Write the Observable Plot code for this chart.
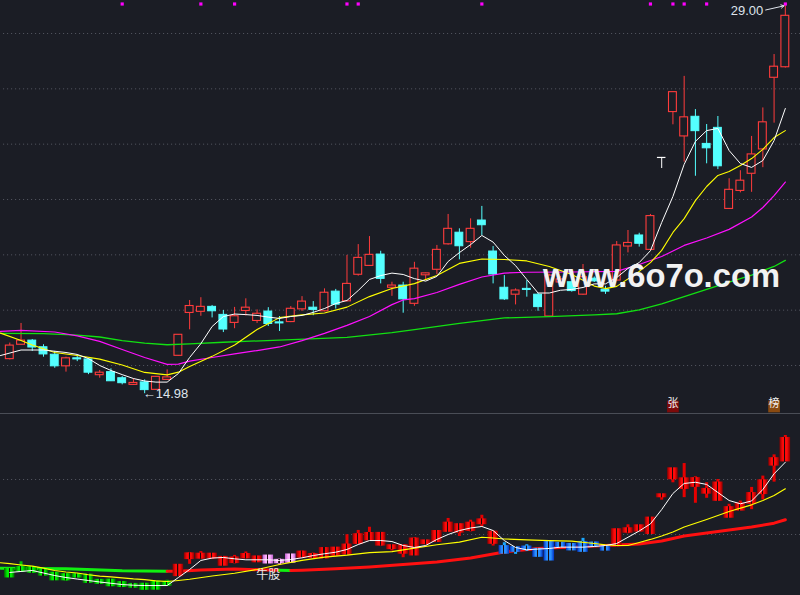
<!DOCTYPE html>
<html><head><meta charset="utf-8">
<script src="https://cdn.jsdelivr.net/npm/d3@7"></script>
<script src="https://cdn.jsdelivr.net/npm/@observablehq/plot@0.6"></script>
<style>
html,body{margin:0;padding:0;background:#1b1d25;}
#wrap{position:relative;width:800px;height:595px;overflow:hidden;background:#1b1d25;}
#sep{height:1px;background:#4a4d56;}
#wrap svg{display:block}
#wm{position:absolute;left:0;top:0;pointer-events:none}
</style></head><body><div id="wrap"></div>
<script>
// ---- daily OHLC (price) ----
const open  = [16.23,16.75,16.90,16.66,16.39,15.97,16.26,16.22,15.65,15.76,15.54,15.30,15.39,15.12,15.48,16.35,17.90,17.94,18.12,17.83,17.54,17.97,17.61,17.95,17.56,17.57,18.03,18.09,17.96,18.67,18.32,19.28,19.60,20.01,18.81,18.89,18.23,19.26,19.46,20.38,20.80,20.46,21.24,20.12,18.81,18.56,18.77,18.56,17.77,19.00,19.01,18.56,19.14,18.74,19.07,20.30,20.70,20.18,23.52,25.16,24.28,24.99,24.01,24.59,21.66,22.31,22.93,23.81,26.40,26.78];
const high  = [16.81,17.52,16.94,16.75,16.51,16.30,16.39,16.24,15.82,15.88,15.60,15.52,15.48,15.60,15.84,17.11,18.35,18.45,18.17,17.99,18.10,18.41,18.01,18.09,17.77,18.13,18.49,18.31,18.77,18.75,19.98,20.37,20.66,20.13,19.01,19.01,19.73,19.34,20.34,21.46,20.94,21.30,21.75,20.30,19.25,18.77,19.07,18.60,19.30,19.22,19.05,19.65,19.20,18.86,20.48,20.88,20.78,21.46,23.52,25.88,26.45,25.25,24.71,25.00,22.75,23.04,24.28,25.31,27.24,29.00];
const low   = [16.20,16.74,16.51,16.30,15.90,15.76,16.14,15.67,15.54,15.42,15.30,15.28,14.98,15.10,15.46,16.35,17.29,17.78,17.72,17.19,17.33,17.79,17.52,17.41,17.23,17.55,17.95,17.80,17.94,18.04,18.30,19.23,19.58,18.95,18.50,17.89,18.14,19.07,19.29,20.35,19.82,20.24,20.70,18.95,18.35,18.19,18.47,17.96,17.75,18.93,18.65,18.54,19.00,18.57,19.05,20.07,20.28,20.15,23.12,24.70,23.35,22.84,23.29,23.08,21.64,22.24,22.26,23.15,24.76,26.75];
const close = [16.72,16.90,16.65,16.40,15.97,16.26,16.22,15.74,15.74,15.43,15.36,15.37,15.11,15.59,15.57,17.11,18.15,18.12,17.96,17.30,17.78,18.09,17.87,17.50,17.52,18.05,18.31,18.01,18.63,18.20,18.95,19.89,20.00,19.13,18.89,18.39,19.50,19.33,20.18,20.94,20.31,20.94,21.07,19.29,18.39,18.71,18.73,18.11,19.25,19.11,18.69,19.19,19.04,18.67,20.34,20.43,20.40,21.40,23.52,25.88,24.97,24.47,23.85,23.20,22.35,22.68,23.63,24.79,26.80,28.64];

// ---- moving averages as [candle index, price] ----
const ma5 = [[-0.83,16.36],[1,16.56],[3,16.56],[5,16.47],[6,16.40],[7,16.25],[8,16.00],[9,15.82],[10,15.67],[11,15.53],[12,15.44],[13,15.40],[14,15.40],[15,15.71],[16,16.29],[17,16.79],[18,17.41],[19,17.77],[20,17.86],[21,17.84],[22,17.81],[23,17.75],[24,17.70],[25,17.77],[26,17.81],[27,17.92],[28,18.06],[29,18.24],[30,18.35],[31,18.71],[32,19.11],[33,19.25],[34,19.34],[35,19.29],[36,19.14],[37,19.05],[38,19.22],[39,19.76],[40,20.08],[41,20.37],[42,20.70],[43,20.46],[44,19.98],[45,19.61],[46,19.11],[47,18.62],[48,18.62],[49,18.72],[50,18.75],[51,18.82],[52,18.95],[53,18.95],[54,19.18],[55,19.51],[56,19.72],[57,20.15],[58,21.17],[59,22.11],[60,23.27],[61,24.10],[62,24.49],[63,24.57],[64,23.77],[65,23.30],[66,23.16],[67,23.41],[68,24.13],[69,25.29]];
const ma10 = [[-0.83,17.17],[1,16.90],[2,16.74],[4,16.47],[6,16.36],[8,16.23],[10,16.02],[12,15.75],[14,15.66],[15,15.76],[16,15.96],[18,16.33],[20,16.74],[22,17.30],[24,17.73],[26,17.83],[28,17.90],[30,18.11],[32,18.49],[34,18.78],[36,18.96],[38,19.25],[40,19.69],[42,19.85],[44,19.83],[46,19.78],[48,19.58],[50,19.29],[52,18.87],[53,18.78],[54,18.86],[56,19.40],[57,19.72],[58,20.16],[59,20.81],[60,21.31],[61,21.96],[62,22.47],[63,22.87],[64,23.01],[65,23.23],[66,23.48],[67,23.81],[68,24.24],[69,24.49]];
const ma20 = [[-0.83,17.23],[1,17.27],[4,17.21],[6,17.07],[8,16.87],[10,16.58],[12,16.29],[14,16.04],[15,16.05],[16,16.16],[18,16.29],[20,16.42],[22,16.54],[24,16.67],[26,16.90],[28,17.16],[30,17.45],[32,17.77],[34,18.20],[35,18.37],[36,18.42],[38,18.64],[40,18.93],[42,19.20],[44,19.34],[46,19.37],[50,19.38],[54,19.40],[56,19.65],[58,19.94],[60,20.34],[62,20.61],[64,20.92],[66,21.37],[67,21.71],[68,22.14],[69,22.63]];
const ma60 = [[-0.83,17.16],[3,17.15],[6,17.10],[8,17.03],[10,16.90],[12,16.81],[14,16.75],[16,16.78],[19,16.84],[24,16.92],[30,17.02],[34,17.19],[36,17.30],[40,17.52],[44,17.72],[48,17.77],[52,17.83],[54,17.87],[56,18.01],[58,18.23],[60,18.49],[62,18.75],[64,19.01],[66,19.27],[68,19.58],[69,19.80]];

// ---- lower panel ----
const toneCodes = "gggggggggggggggrrrrrrrrppprrrrrrrrrrrrrrrrrrbbbbbbbbbbrrrrrrrrrrrrrrrr".split("");
const lowWhite = [16.55,16.64,16.73,16.50,16.27,16.09,15.95,15.82,15.68,15.57,15.45,15.39,15.36,15.36,15.36,16.09,16.82,17.64,17.86,17.91,17.79,17.70,17.70,17.70,17.64,17.73,17.88,18.09,18.25,18.39,18.64,19.09,19.45,19.45,19.36,19.00,18.82,19.00,19.55,20.00,20.36,20.59,20.73,20.36,19.45,18.82,18.61,18.68,18.73,18.85,18.85,18.85,18.91,19.00,19.18,19.75,20.32,20.97,22.27,23.73,24.64,24.75,24.55,23.82,23.09,22.79,23.05,24.09,25.52,26.57];
const lowYellow = [[-0.83,17.43],[0,17.36],[1,17.23],[2,17.12],[3,16.95],[4,16.73],[5,16.59],[6,16.50],[7,16.34],[8,16.21],[9,16.14],[10,16.06],[11,15.96],[12,15.89],[13,15.79],[14,15.73],[15,15.82],[16,15.93],[18,16.23],[20,16.48],[22,16.82],[24,17.27],[26,17.64],[28,17.94],[30,18.12],[32,18.36],[34,18.45],[36,18.77],[38,19.07],[40,19.30],[42,19.75],[43,19.68],[44,19.59],[46,19.52],[48,19.45],[50,19.39],[52,19.18],[53,19.06],[54,19.00],[55,19.00],[56,19.27],[57,19.55],[58,19.86],[59,20.23],[60,20.68],[62,21.36],[64,22.09],[66,22.70],[67,23.09],[68,23.55],[69,24.15]];
const thickIdx   = [-0.83,5,10,14,15,17,20,23,24,25,26,29,32,35,38,41,44,47,50,53,56,58,60,63,66,68,69];
const thickVal   = [16.94,16.88,16.70,16.66,16.66,16.77,16.86,16.77,16.75,16.73,16.76,16.88,17.05,17.27,17.50,17.86,18.41,18.73,18.86,19.00,19.14,19.41,19.86,20.27,20.68,21.03,21.34];
const thickState = ["dn","dn","dn","dn","up","up","up","up","up","dn","up","up","up","up","up","up","up","up","up","up","up","up","up","up","up","up","up"];

// ---- grid & labels ----
const gridTop = [16,18,20,22,24,26,28];
const gridLow = [20,25];
const signalIdx = [10,17,20,30,31,42,57,59,60,62,69];
const tagIdx = [59,68];
const tagText = ["张","榜"];
const noteLabel = "牛股";
const noteIdx = 23;

// ---------------------------------------------------------------
const BG="#1b1d25", RED="#ff3c3c", CYAN="#54ffff";
const candles = open.map((o,i)=>({i,o,h:high[i],l:low[i],c:close[i],tone:toneCodes[i]}));
const xDomain=[-0.827,70.35];
const pt = a=>a.map(([i,v])=>({i,v}));
const hiC = candles.reduce((a,b)=>b.h>a.h?b:a);
const loC = candles.reduce((a,b)=>b.l<a.l?b:a);
const tags = tagIdx.map((i,k)=>({i,t:tagText[k],bg:k===0?"#7d0a0a":"#8a4a10"}));

const topPlot = Plot.plot({
  width:800, height:413, margin:0,
  x:{domain:xDomain, axis:null},
  y:{domain:[14.265,29.193], axis:null},
  color:{type:"identity"},
  style:{background:"transparent", overflow:"visible", fontFamily:"Liberation Sans, Arial, sans-serif"},
  marks:[
    Plot.ruleY(gridTop,{x1:-0.55,x2:70.35,stroke:"#565963",strokeDasharray:"1,3"}),
    Plot.ruleX(candles,{x:"i",y1:"l",y2:"h",stroke:d=>d.c>d.o?RED:d.c<d.o?CYAN:"#ffffff",strokeWidth:1}),
    Plot.rect(candles.filter(d=>d.c>d.o),{x1:d=>d.i-0.35,x2:d=>d.i+0.35,y1:"o",y2:"c",fill:BG,stroke:RED,strokeWidth:1.1}),
    Plot.rect(candles.filter(d=>d.c<d.o),{x1:d=>d.i-0.35,x2:d=>d.i+0.35,y1:"o",y2:"c",fill:CYAN,stroke:CYAN,strokeWidth:1}),
    Plot.ruleY(candles.filter(d=>d.c===d.o),{x1:d=>d.i-0.38,x2:d=>d.i+0.38,y:"c",stroke:"#ffffff",strokeWidth:1.2}),
    Plot.line(pt(ma60),{x:"i",y:"v",stroke:"#12e012",strokeWidth:1.3}),
    Plot.line(pt(ma20),{x:"i",y:"v",stroke:"#ff10ff",strokeWidth:1.2}),
    Plot.line(pt(ma10),{x:"i",y:"v",stroke:"#ffff00",strokeWidth:1.1}),
    Plot.line(pt(ma5),{x:"i",y:"v",stroke:"#ffffff",strokeWidth:1}),
    Plot.dot(signalIdx,{x:d=>d,frameAnchor:"top",dy:3.5,symbol:"square",r:1.8,fill:"#ff00ff"}),
    Plot.dot(tags,{x:"i",frameAnchor:"bottom",dy:-7,symbol:"square",r:6.6,fill:"bg"}),
    Plot.text(tags,{x:"i",frameAnchor:"bottom",dy:-7,text:"t",fill:"#f2f2f2",fontSize:11,fontFamily:"Noto Sans CJK SC"}),
    Plot.arrow([hiC],{x1:d=>d.i-1.75,y1:d=>d.h-0.15,x2:d=>d.i-0.12,y2:"h",stroke:"#dfe4ec",strokeWidth:1,headLength:5}),
    Plot.text([hiC],{x:"i",y:"h",text:d=>d.h.toFixed(2),textAnchor:"end",dx:-22,dy:5,fill:"#dfe4ec",fontSize:13}),
    Plot.text([loC],{x:"i",y:"l",text:d=>"←"+d.l.toFixed(2),textAnchor:"start",dx:-2,fill:"#dfe4ec",fontSize:13})
  ]
});

// thick trend line split into runs
const thickPts=[]; let run=0;
thickIdx.forEach((ix,k)=>{
  if(k>0 && thickState[k]!==thickState[k-1]){ run++; thickPts.push({i:thickIdx[k-1],v:thickVal[k-1],s:thickState[k],run}); }
  thickPts.push({i:ix,v:thickVal[k],s:thickState[k],run});
});
const toneStyle = {g:{wick:"#00c800",fill:"url(#gG)"}, r:{wick:"#e60000",fill:"url(#gR)"}, p:{wick:"#ff8cff",fill:"url(#gP)"}, b:{wick:"#1aa8ff",fill:"url(#gB)"}};
const lowMarks = [
  Plot.ruleY(gridLow,{x1:-0.55,x2:70.35,stroke:"#565963",strokeDasharray:"1,3"}),
  Plot.line(thickPts,{x:"i",y:"v",z:"run",stroke:d=>d.s==="up"?"#ff1010":"#10f010",strokeWidth:3})
];
for(const k of Object.keys(toneStyle)){
  const sub=candles.filter(d=>d.tone===k);
  lowMarks.push(Plot.ruleX(sub,{x:"i",y1:"l",y2:"h",stroke:toneStyle[k].wick,strokeWidth:3}));
  lowMarks.push(Plot.rect(sub,{x1:d=>d.i-0.47,x2:d=>d.i+0.47,y1:"o",y2:"c",insetTop:-2,insetBottom:-2,fill:toneStyle[k].fill}));
}
lowMarks.push(
  Plot.line(pt(lowYellow),{x:"i",y:"v",stroke:"#ffff00",strokeWidth:1.2}),
  Plot.line(lowWhite.map((v,i)=>({i,v})),{x:"i",y:"v",stroke:"#ffffff",strokeWidth:1}),
  Plot.text([candles[noteIdx]],{x:"i",y:"l",dy:12,text:()=>noteLabel,fill:"#e8e8e8",fontSize:12,fontFamily:"Noto Sans CJK SC"})
);
const lowPlot = Plot.plot({
  width:800, height:181, margin:0,
  x:{domain:xDomain, axis:null},
  y:{domain:[14.455,30.909], axis:null},
  color:{type:"identity"},
  style:{background:"transparent", overflow:"visible"},
  marks:lowMarks
});
function grad(id,dark,bright){
  return `<linearGradient id="${id}" x1="0" x2="1" y1="0" y2="0">
  <stop offset="0" stop-color="${dark}"/><stop offset="0.3" stop-color="${bright}"/><stop offset="0.44" stop-color="${bright}"/>
  <stop offset="0.45" stop-color="#1a0a0a"/><stop offset="0.55" stop-color="#1a0a0a"/><stop offset="0.56" stop-color="${bright}"/>
  <stop offset="0.7" stop-color="${bright}"/><stop offset="1" stop-color="${dark}"/></linearGradient>`;
}
lowPlot.insertAdjacentHTML("afterbegin",`<defs>${grad("gR","#8a0000","#ff0a0a")}${grad("gG","#006000","#00ee00")}${grad("gB","#0030c0","#2a90ff")}${grad("gP","#c060d0","#ffb4ff")}</defs>`);

const wrap=document.getElementById("wrap");
wrap.appendChild(topPlot);
const sep=document.createElement("div"); sep.id="sep"; wrap.appendChild(sep);
wrap.appendChild(lowPlot);
wrap.insertAdjacentHTML("beforeend",`<svg id="wm" width="800" height="595"><text x="543" y="287" font-family="Liberation Sans, Arial, sans-serif" font-weight="bold" font-size="33" fill="#f2f2f2" textLength="237" lengthAdjust="spacingAndGlyphs">www.6o7o.com</text></svg>`);
</script></body></html>
